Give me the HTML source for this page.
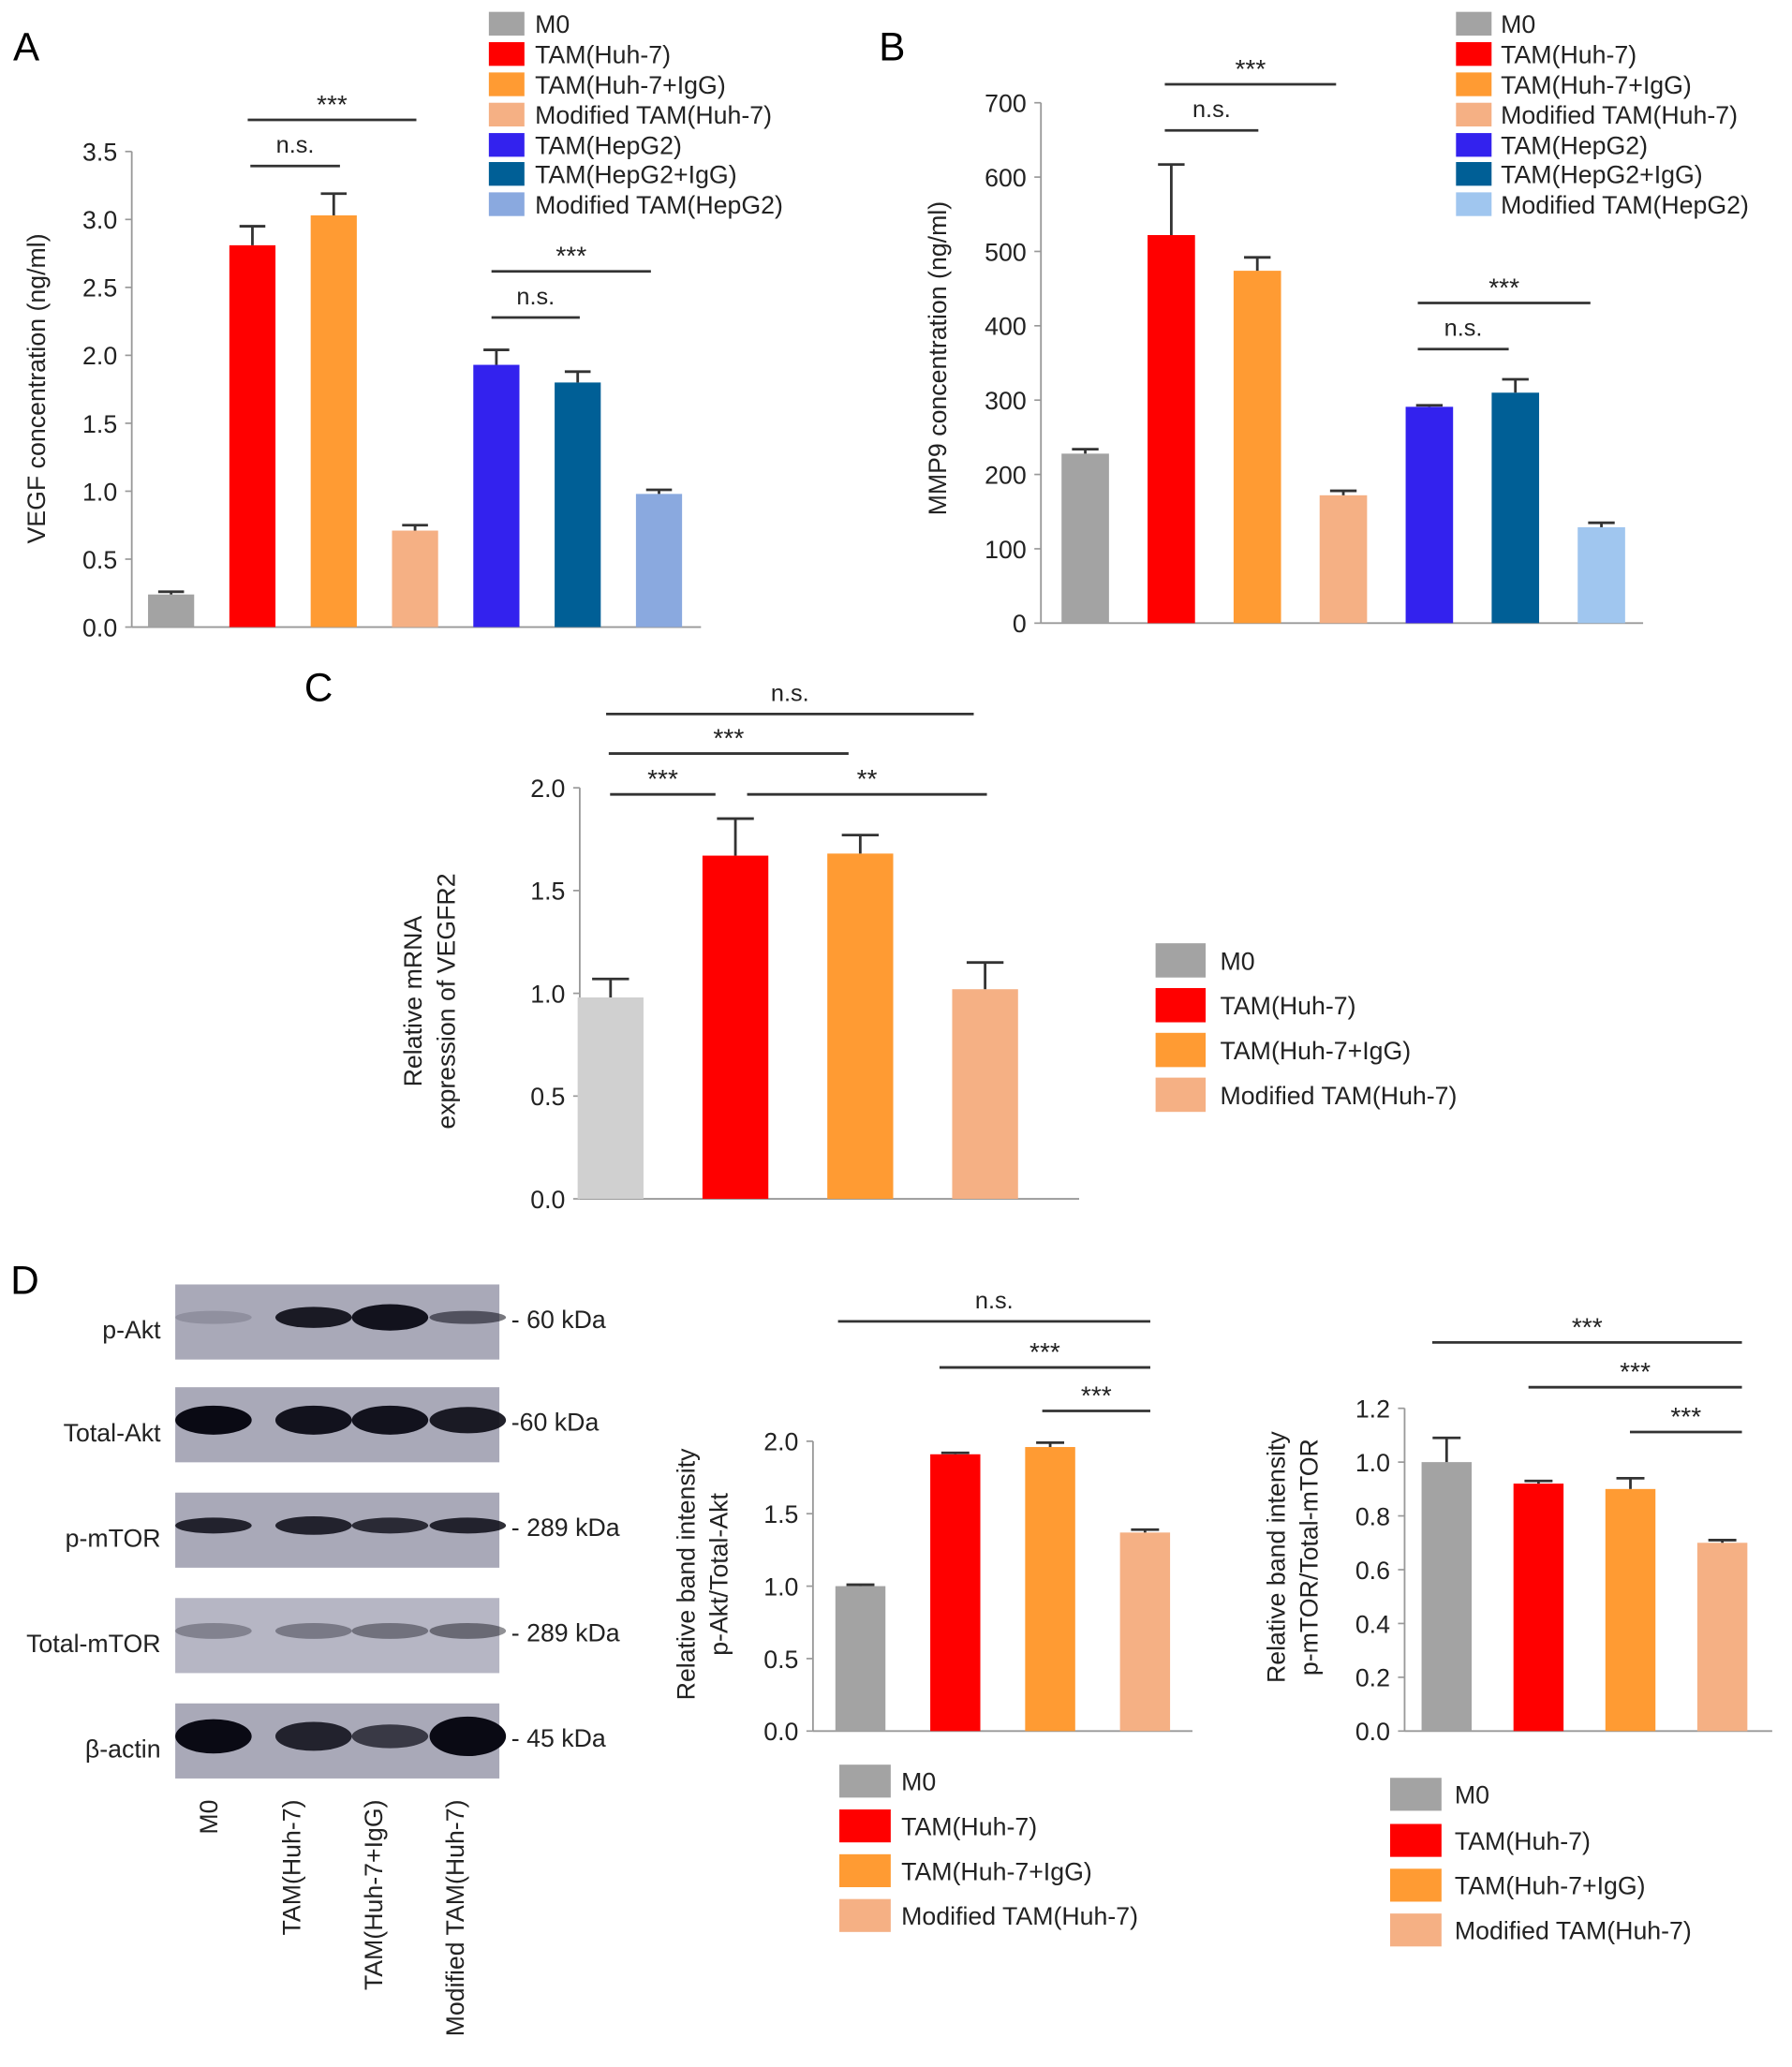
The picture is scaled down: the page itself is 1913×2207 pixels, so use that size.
<!DOCTYPE html>
<html><head><meta charset="utf-8">
<style>
html,body{margin:0;padding:0;background:#fff;}
svg{display:block;font-family:"Liberation Sans",Arial,sans-serif;}
</style></head>
<body>
<svg id="fig" width="1913" height="2207" viewBox="0 0 1360 1569" preserveAspectRatio="none" xmlns="http://www.w3.org/2000/svg">
<rect width="1360" height="1569" fill="#fff"/>
<text x="10" y="46" font-size="30">A</text>
<text x="667" y="46" font-size="30">B</text>
<text x="231" y="532" font-size="30">C</text>
<text x="8" y="982" font-size="30">D</text>
<g id="blots"></g>
</svg>
<script>
// ---- Panel A data ----
const aCategories = ["M0","TAM(Huh-7)","TAM(Huh-7+IgG)","Modified TAM(Huh-7)","TAM(HepG2)","TAM(HepG2+IgG)","Modified TAM(HepG2)"];
const aValues = [0.24, 2.81, 3.03, 0.71, 1.93, 1.80, 0.98];
const aErrors = [0.02, 0.14, 0.16, 0.04, 0.11, 0.08, 0.03];
const aTicks = ["0.0","0.5","1.0","1.5","2.0","2.5","3.0","3.5"];
// ---- Panel B data ----
const bCategories = aCategories;
const bValues = [228, 522, 474, 172, 291, 310, 129];
const bErrors = [6, 95, 18, 6, 2, 18, 6];
const bTicks = ["0","100","200","300","400","500","600","700"];
// ---- Panel C data ----
const cCategories = ["M0","TAM(Huh-7)","TAM(Huh-7+IgG)","Modified TAM(Huh-7)"];
const cValues = [0.98, 1.67, 1.68, 1.02];
const cErrors = [0.09, 0.18, 0.09, 0.13];
const cTicks = ["0.0","0.5","1.0","1.5","2.0"];
// ---- Panel D (p-Akt) data ----
const dAktValues = [1.00, 1.91, 1.96, 1.37];
const dAktErrors = [0.01, 0.01, 0.03, 0.02];
const dAktTicks = ["0.0","0.5","1.0","1.5","2.0"];
// ---- Panel D (p-mTOR) data ----
const dMtorValues = [1.00, 0.92, 0.90, 0.70];
const dMtorErrors = [0.09, 0.01, 0.04, 0.01];
const dMtorTicks = ["0.0","0.2","0.4","0.6","0.8","1.0","1.2"];

const NS="http://www.w3.org/2000/svg";
const svg=document.getElementById('fig');
function mk(tag,attrs,parent,txt){const e=document.createElementNS(NS,tag);for(const k in attrs)e.setAttribute(k,attrs[k]);if(txt!==undefined)e.textContent=txt;(parent||svg).appendChild(e);return e;}

function chart(o){
  const g=mk('g',{});
  
  
  const max=parseFloat(o.ticks[o.ticks.length-1]);
  const y=v=>o.y0-(v/max)*(o.y0-o.yTop);
  const step=(o.x1-o.x0-o.pad)/o.values.length;
  const xc=i=>o.x0+o.pad/2+step*(i+0.5)+ (o.shift||0);
  const ya=mk('line',{x1:o.x0,y1:o.yTop,x2:o.x0,y2:o.y0,stroke:'#999','stroke-width':1.3},g);
  
  const xa=mk('line',{x1:o.x0,y1:o.y0,x2:o.x1,y2:o.y0,stroke:'#999','stroke-width':1.3},g);
  
  o.ticks.forEach(t=>{
    const v=parseFloat(t);const yy=y(v);
    mk('line',{x1:o.x0-5,y1:yy,x2:o.x0,y2:yy,stroke:'#999','stroke-width':1.2},g);
    const tl=mk('text',{x:o.x0-11,y:yy+7,'font-size':19,'text-anchor':'end',fill:'#222'},g,t);
    
  });
  o.values.forEach((v,i)=>{
    const cx=xc(i),w=o.bw,top=y(v),et=y(v+o.errors[i]);
    const r=mk('rect',{x:cx-w/2,y:top,width:w,height:o.y0-top,fill:o.colors[i]},g);
    
    mk('line',{x1:cx,y1:top,x2:cx,y2:et,stroke:'#333','stroke-width':2},g);
    mk('line',{x1:cx-w*0.28,y1:et,x2:cx+w*0.28,y2:et,stroke:'#333','stroke-width':2},g);
  });
  o.ylabel.forEach((l,k)=>{
    const lx=o.ylx+k*25;
    const t=mk('text',{x:lx,y:o.yly,'font-size':19,'text-anchor':'middle',transform:`rotate(-90 ${lx} ${o.yly})`,fill:'#222'},g,l);
    
  });
  o.sig.forEach(s=>{
    mk('line',{x1:s[0],y1:s[2],x2:s[1],y2:s[2],stroke:'#333','stroke-width':2},g);
    const t=mk('text',{x:(s[0]+s[1])/2,y:s[2]-(s[3]==='n.s.'?10:5),'font-size':s[3]==='n.s.'?18:20,'text-anchor':'middle',fill:'#222'},g,s[3]);
    
  });
}
function legend(name,x,tx,ys,h,w,labels,colors,fs){
  const g=mk('g',{});
  
  
  labels.forEach((l,i)=>{
    mk('rect',{x:x,y:ys[i]-h/2,width:w,height:h,fill:colors[i]},g);
    const t=mk('text',{x:tx,y:ys[i]+7,'font-size':fs,fill:'#222'},g,l);
    
  });
}
const col7A=['#a3a3a3','#ff0000','#ff9b33','#f5b084','#3322ee','#005f96','#8aa9df'];
const col7B=['#a3a3a3','#ff0000','#ff9b33','#f5b084','#3322ee','#005f96','#a0c6ef'];
const col4=['#a3a3a3','#ff0000','#ff9b33','#f5b084'];
const col4C=['#d0d0d0','#ff0000','#ff9b33','#f5b084'];

chart({name:'chart-a-vegf',x0:100,x1:532,y0:476,yTop:115,pad:0,bw:35,values:aValues,errors:aErrors,ticks:aTicks,colors:col7A,shift:-1,
  ylabel:['VEGF concentration (ng/ml)'],ylx:34,yly:295,
  sig:[[188,316,91,'***'],[190,258,126,'n.s.'],[373,494,206,'***'],[373,440,241,'n.s.']]});
legend('legend-a',371,406,[18,41,64,87,110,132,155],18,27,aCategories,col7A,19);

chart({name:'chart-b-mmp9',x0:790,x1:1247,y0:473,yTop:78,pad:0,bw:36,values:bValues,errors:bErrors,ticks:bTicks,colors:col7B,shift:1,
  ylabel:['MMP9 concentration (ng/ml)'],ylx:718,yly:272,
  sig:[[884,1014,64,'***'],[884,955,99,'n.s.'],[1076,1207,230,'***'],[1076,1145,265,'n.s.']]});
legend('legend-b',1105,1139,[18,41,64,87,110,132,155],18,27,bCategories,col7B,19);

chart({name:'chart-c-vegfr2',x0:440,x1:819,y0:910,yTop:598,pad:0,bw:50,values:cValues,errors:cErrors,ticks:cTicks,colors:col4C,shift:-24,
  ylabel:['Relative mRNA','expression of VEGFR2'],ylx:320,yly:760,
  sig:[[463,543,603,'***'],[567,749,603,'**'],[462,644,572,'***'],[460,739,542,'n.s.']]});
legend('legend-c',877,926,[729,763,797,831],26,38,cCategories,col4,19);

chart({name:'chart-d-pakt',x0:617,x1:905,y0:1314,yTop:1094,pad:0,bw:38,values:dAktValues,errors:dAktErrors,ticks:dAktTicks,colors:col4,shift:0,
  ylabel:['Relative band intensity','p-Akt/Total-Akt'],ylx:527,yly:1195,
  sig:[[791,873,1071,'***'],[713,873,1038,'***'],[636,873,1003,'n.s.']]});
legend('legend-d-pakt',637,684,[1352,1386,1420,1454],25,39,cCategories,col4,19);

chart({name:'chart-d-pmtor',x0:1066,x1:1345,y0:1314,yTop:1069,pad:0,bw:38,values:dMtorValues,errors:dMtorErrors,ticks:dMtorTicks,colors:col4,shift:-3,
  ylabel:['Relative band intensity','p-mTOR/Total-mTOR'],ylx:975,yly:1182,
  sig:[[1237,1322,1087,'***'],[1160,1322,1053,'***'],[1087,1322,1019,'***']]});
legend('legend-d-pmtor',1055,1104,[1362,1397,1431,1465],25,39,cCategories,col4,19);

// ---- Western blot ----
const blotRows=["p-Akt","Total-Akt","p-mTOR","Total-mTOR","β-actin"];
const blotKda=["- 60 kDa","-60 kDa","- 289 kDa","- 289 kDa","- 45 kDa"];
const blotTop=[975,1053,1133,1213,1293];
const bandIntensity=[[0.15,0.9,0.95,0.55],[1,0.95,0.95,0.9],[0.85,0.85,0.8,0.85],[0.3,0.35,0.4,0.45],[1,0.85,0.7,1]];
const bandHeight=[[10,16,20,10],[22,22,22,20],[12,14,12,12],[12,12,12,12],[26,22,18,30]];
const lanes=["M0","TAM(Huh-7)","TAM(Huh-7+IgG)","Modified TAM(Huh-7)"];
const laneX=[162,238,296,355];
const bg=document.getElementById('blots');
blotRows.forEach((r,i)=>{
  const t=blotTop[i];
  const box=mk('rect',{x:133,y:t,width:246,height:57,fill:i===3?'#b6b6c4':'#a9a9b8'},bg);
  
  laneX.forEach((lx,j)=>{
    const a=bandIntensity[i][j];
    mk('ellipse',{cx:lx,cy:t+25,rx:29,ry:bandHeight[i][j]/2,fill:`rgba(10,10,20,${a})`},bg);
  });
  const l=mk('text',{x:122,y:t+41,'font-size':19,'text-anchor':'end',fill:'#222'},bg,r);
  
  const k=mk('text',{x:388,y:t+33,'font-size':19,fill:'#222'},bg,blotKda[i]);
  
});
const laneLabelX=[165,228,290,352];
lanes.forEach((l,j)=>{
  const x=laneLabelX[j],yy=1366;
  const t=mk('text',{x:x,y:yy,'font-size':19,'text-anchor':'end',transform:`rotate(-90 ${x} ${yy})`,fill:'#222'},bg,l);
  
});
</script>
</body></html>
